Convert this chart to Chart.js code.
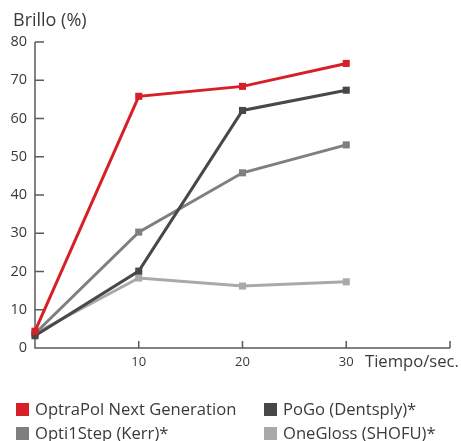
<!DOCTYPE html>
<html><head><meta charset="utf-8">
<script src="https://cdn.jsdelivr.net/npm/chart.js@4/dist/chart.umd.min.js"></script>
<style>
html,body{margin:0;padding:0;background:#fff;}
#wrap{position:relative;width:461px;height:441px;overflow:hidden;font-family:"Open Sans",sans-serif;color:#3a3a3a;}
canvas{position:absolute;left:0;top:0;}
.t{position:absolute;white-space:nowrap;}
.lg{position:absolute;white-space:nowrap;font-size:16.6px;line-height:20px;}
.lg i{display:inline-block;width:13px;height:13px;margin-right:6px;vertical-align:-1px;}
</style></head>
<body>
<div id="wrap">
<canvas id="c" width="461" height="441"></canvas>
<div class="t" style="left:13px;top:7px;font-size:18px;">Brillo (%)</div>
<div class="t" style="left:365px;top:349px;font-size:16.6px;">Tiempo/sec.</div>
<div id="legend"></div>
</div>
<script>
const times = [0, 10, 20, 30];
const seriesNames = ["OptraPol Next Generation", "PoGo (Dentsply)*", "Opti1Step (Kerr)*", "OneGloss (SHOFU)*"];
const optraPol = [4.4, 65.8, 68.4, 74.4];
const poGo = [3.2, 20.1, 62.1, 67.4];
const opti1Step = [3.8, 30.3, 45.8, 53.1];
const oneGloss = [3.8, 18.3, 16.2, 17.3];
const yTicks = [0, 10, 20, 30, 40, 50, 60, 70, 80];
const xTicks = [10, 20, 30];
const colors = ["#d71f27", "#48484a", "#7f7f81", "#a9a9ab"];

const values = [optraPol, poGo, opti1Step, oneGloss];
const datasets = values.map((v, i) => ({
  label: seriesNames[i],
  data: v.map((y, k) => ({x: times[k], y})),
  borderColor: colors[i],
  backgroundColor: colors[i],
  borderWidth: 3,
  pointStyle: 'rect',
  pointRadius: 5,
  pointBorderWidth: 0,
  pointHoverRadius: 5,
  tension: 0,
  clip: false
}));

const axisPlugin = {
  id: 'axisPlugin',
  beforeDatasetsDraw(chart) {
    const {ctx, chartArea, scales} = chart;
    const xs = scales.x, ys = scales.y;
    ctx.save();
    ctx.strokeStyle = '#5a5a5a';
    ctx.lineWidth = 1.5;
    ctx.beginPath();
    ctx.moveTo(chartArea.left, ys.getPixelForValue(80));
    ctx.lineTo(chartArea.left, chartArea.bottom);
    ctx.lineTo(xs.getPixelForValue(40), chartArea.bottom);
    yTicks.forEach(t => {
      const p = ys.getPixelForValue(t);
      ctx.moveTo(chartArea.left, p); ctx.lineTo(chartArea.left + 9, p);
    });
    [10, 20, 30, 40].forEach(t => {
      const p = xs.getPixelForValue(t);
      ctx.moveTo(p, chartArea.bottom); ctx.lineTo(p, chartArea.bottom - 7);
    });
    ctx.stroke();
    ctx.restore();
  }
};

new Chart(document.getElementById('c'), {
  type: 'line',
  data: {datasets},
  options: {
    responsive: false,
    animation: false,
    devicePixelRatio: 1,
    layout: {padding: {top: 42, right: 11, bottom: 63, left: 0}},
    plugins: {legend: {display: false}, tooltip: {enabled: false}},
    scales: {
      x: {
        type: 'linear', min: 0, max: 40,
        border: {display: false},
        grid: {display: false, drawTicks: false},
        afterBuildTicks(s) { s.ticks = xTicks.map(v => ({value: v})); },
        afterFit(s) { s.height = 30; },
        ticks: {padding: 6, color: '#3a3a3a', font: {family: 'Open Sans', size: 13}}
      },
      y: {
        min: 0, max: 80,
        border: {display: false},
        grid: {display: false, drawTicks: false},
        afterBuildTicks(s) { s.ticks = yTicks.map(v => ({value: v})); },
        afterFit(s) { s.width = 35; },
        ticks: {padding: 8, color: '#3a3a3a', font: {family: 'Open Sans', size: 14.5}}
      }
    }
  },
  plugins: [axisPlugin]
});

const pos = [[16, 399], [264, 399], [16, 423], [264, 423]];
const lg = document.getElementById('legend');
seriesNames.forEach((n, i) => {
  const d = document.createElement('div');
  d.className = 'lg';
  d.style.left = pos[i][0] + 'px';
  d.style.top = pos[i][1] + 'px';
  d.innerHTML = '<i style="background:' + colors[i] + '"></i>';
  d.appendChild(document.createTextNode(n));
  lg.appendChild(d);
});
</script>
</body></html>
